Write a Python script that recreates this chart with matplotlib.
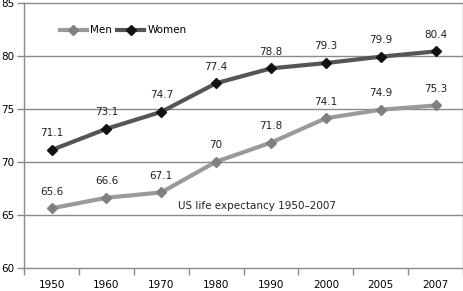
import numpy as np
import matplotlib.pyplot as plt

years = ["1950", "1960", "1970", "1980", "1990", "2000", "2005", "2007"]
men = [65.6, 66.6, 67.1, 70, 71.8, 74.1, 74.9, 75.3]
women = [71.1, 73.1, 74.7, 77.4, 78.8, 79.3, 79.9, 80.4]

MEN_COLOR = "#9a9a9a"
MEN_MARK = "#808080"
WOMEN_COLOR = "#555555"
WOMEN_MARK = "#111111"
GRID = "#8a8a8a"

plt.rcParams["font.family"] = ["DejaVu Sans"]
plt.rcParams["font.size"] = 7.5

fig = plt.figure(figsize=(4.64, 2.91), dpi=100)
ax = fig.add_axes([0.052, 0.080, 0.946, 0.911])

x = np.arange(len(years))
ax.plot(x, men, color=MEN_COLOR, lw=3, marker="D", ms=5,
        mfc=MEN_MARK, mec=MEN_MARK, label="Men", zorder=3)
ax.plot(x, women, color=WOMEN_COLOR, lw=3, marker="D", ms=5,
        mfc=WOMEN_MARK, mec=WOMEN_MARK, label="Women", zorder=3)

for xi, v in zip(x, men):
    ax.annotate(f"{v:g}", (xi, v), xytext=(0, 12), textcoords="offset points",
                ha="center", va="center", color="#222222")
for xi, v in zip(x, women):
    ax.annotate(f"{v:g}", (xi, v), xytext=(0, 12), textcoords="offset points",
                ha="center", va="center", color="#222222")

ax.text(2.3, 65.8, "US life expectancy 1950\u20132007", ha="left", va="center",
        color="#222222")

ax.set_xlim(-0.5, len(years) - 0.5)
ax.set_ylim(60, 85)
ax.set_yticks([60, 65, 70, 75, 80, 85])
ax.set_xticks(np.arange(len(years) + 1) - 0.5)
ax.set_xticklabels([])
ax.set_xticks(x, minor=True)
ax.set_xticklabels(years, minor=True)
ax.tick_params(axis="x", which="major", length=5, color=GRID, width=1)
ax.tick_params(axis="x", which="minor", length=0, pad=9)
ax.tick_params(axis="y", length=5, color=GRID, width=1, pad=2)

for yv in [65, 70, 75, 80]:
    ax.axhline(yv, color=GRID, lw=1, zorder=1)
for s in ax.spines.values():
    s.set_color(GRID)
    s.set_linewidth(1)

ax.legend(loc="upper left", bbox_to_anchor=(0.06, 0.95), ncol=2, frameon=False,
          handlelength=2.6, columnspacing=0.5, handletextpad=0.3)

fig.savefig("out.png", dpi=100)
